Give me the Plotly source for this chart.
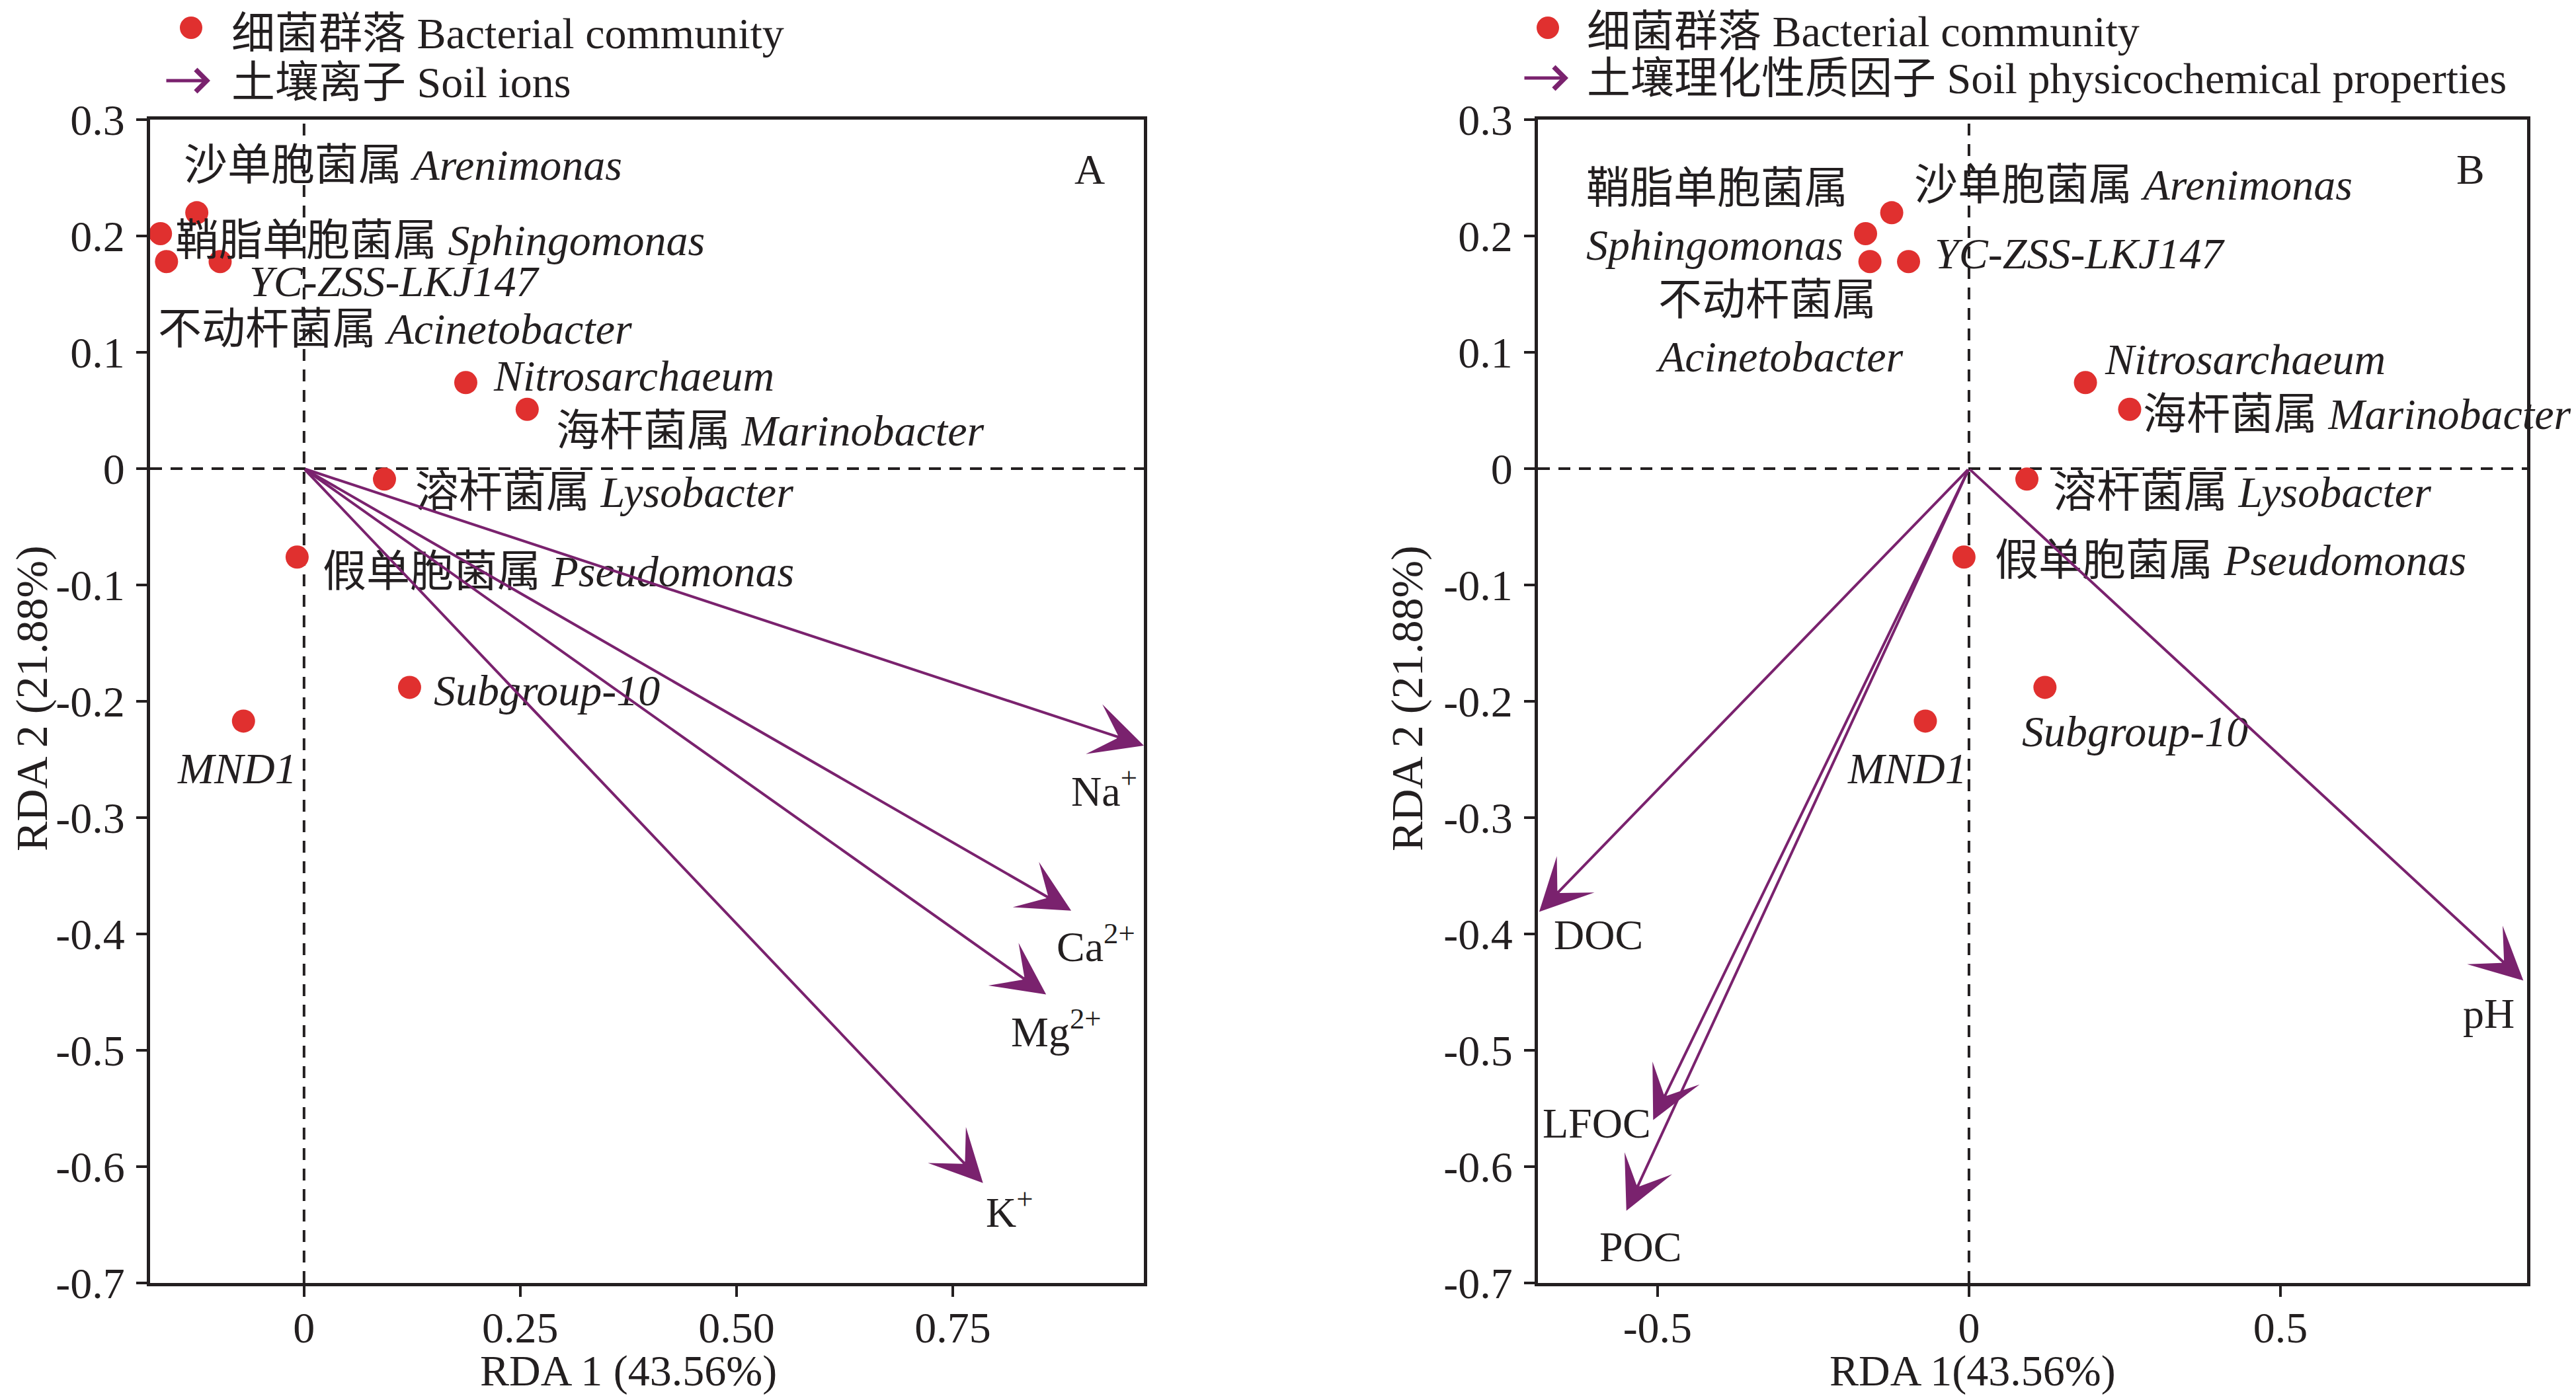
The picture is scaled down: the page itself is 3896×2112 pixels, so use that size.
import plotly.graph_objects as go

W, H = 3896, 2112

# ---------------- data ----------------
GENUS_CN = ["沙单胞菌属", "鞘脂单胞菌属", "不动杆菌属", "", "", "海杆菌属", "溶杆菌属", "假单胞菌属", "", ""]
GENUS_LAT = ["Arenimonas", "Sphingomonas", "Acinetobacter", "YC-ZSS-LKJ147", "Nitrosarchaeum",
             "Marinobacter", "Lysobacter", "Pseudomonas", "Subgroup-10", "MND1"]
GENUS_RDA1 = [-0.124, -0.166, -0.159, -0.097, 0.187, 0.258, 0.093, -0.008, 0.122, -0.070]
GENUS_RDA2 = [0.220, 0.202, 0.178, 0.178, 0.074, 0.051, -0.009, -0.076, -0.188, -0.217]

IONS = ["Na<sup>+</sup>", "Ca<sup>2+</sup>", "Mg<sup>2+</sup>", "K<sup>+</sup>"]
ION_RDA1 = [0.971, 0.887, 0.858, 0.785]
ION_RDA2 = [-0.238, -0.380, -0.452, -0.614]

PROPS = ["DOC", "LFOC", "POC", "pH"]
PROP_RDA1 = [-0.690, -0.507, -0.550, 0.890]
PROP_RDA2 = [-0.381, -0.560, -0.638, -0.440]

ORIGIN = [0.0, 0.0]

Y_TICKS = [0.3, 0.2, 0.1, 0.0, -0.1, -0.2, -0.3, -0.4, -0.5, -0.6, -0.7]
Y_TICKTEXT = ["0.3", "0.2", "0.1", "0", "-0.1", "-0.2", "-0.3", "-0.4", "-0.5", "-0.6", "-0.7"]
X1_TICKS = [0, 0.25, 0.5, 0.75]
X1_TICKTEXT = ["0", "0.25", "0.50", "0.75"]
X2_TICKS = [-0.5, 0, 0.5]
X2_TICKTEXT = ["-0.5", "0", "0.5"]

# ---------------- style / layout ----------------
RED = "#E0302F"
PURPLE = "#7A226E"
INK = "#231F20"
SERIF = "Liberation Serif, Times New Roman, Noto Sans CJK SC, serif"
LABEL_SIZE = 66

# label placement (anchor, dx px, dy px) per genus
LAB1 = [("left", -22, 72), ("left", 20, -10), ("left", -15, -102), ("left", 42, -30),
        ("left", 40, 10), ("left", 42, -32), ("left", 45, -20), ("left", 37, -22),
        ("left", 35, -5), ("center", -10, -72)]
LAB2 = [("left", 32, 42), ("right", -25, 26), ("left", -326, -101), ("left", 37, 12),
        ("left", 27, 35), ("left", 18, -7), ("left", 37, -20), ("left", 45, -5),
        ("left", -37, -67), ("center", -27, -72)]
TWO_LINE_RIGHT = {"Sphingomonas", "Acinetobacter"}
ION_OFF = [(-60, -65), (37, -50), (15, -52), (40, -40)]
PROP_OFF = [(90, -35), (-85, -5), (22, -55), (-52, -50)]


def px(x):
    return x / W


def py(y):
    return 1 - y / H


fig = go.Figure()

for xa, ya in (("x", "y"), ("x2", "y2")):
    fig.add_trace(go.Scatter(
        x=GENUS_RDA1, y=GENUS_RDA2, mode="markers", xaxis=xa, yaxis=ya,
        marker=dict(size=35, color=RED), showlegend=False, hoverinfo="skip"))

annotations = []

# genus labels
for panel, lab, xr, yr in ((1, LAB1, "x", "y"), (2, LAB2, "x2", "y2")):
    for cn, lat, gx, gy, (anc, dx, dy) in zip(GENUS_CN, GENUS_LAT, GENUS_RDA1, GENUS_RDA2, lab):
        if cn:
            sep = "<br>" if (panel == 2 and lat in TWO_LINE_RIGHT) else " "
            txt = f"{cn}{sep}<i>{lat}</i>"
        else:
            txt = f"<i>{lat}</i>"
        annotations.append(dict(
            x=gx, y=gy, xref=xr, yref=yr, text=txt, showarrow=False,
            xanchor=anc, yanchor="middle", align="left", xshift=dx, yshift=dy,
            font=dict(family=SERIF, size=LABEL_SIZE, color=INK)))

# vectors
for names, vx, vy, offs, xr, yr in ((IONS, ION_RDA1, ION_RDA2, ION_OFF, "x", "y"),
                                     (PROPS, PROP_RDA1, PROP_RDA2, PROP_OFF, "x2", "y2")):
    for nm, ex, ey, (dx, dy) in zip(names, vx, vy, offs):
        annotations.append(dict(
            x=ex, y=ey, ax=ORIGIN[0], ay=ORIGIN[1], xref=xr, yref=yr, axref=xr, ayref=yr,
            text="", showarrow=True, arrowhead=3, arrowsize=3.3, arrowwidth=4,
            arrowcolor=PURPLE, standoff=0, startstandoff=0))
        annotations.append(dict(
            x=ex, y=ey, xref=xr, yref=yr, text=nm, showarrow=False,
            xanchor="center", yanchor="middle", xshift=dx, yshift=dy,
            font=dict(family=SERIF, size=64, color=INK)))


def paper_text(x, y, text, size, xanchor="center", yanchor="middle", angle=0):
    return dict(x=px(x), y=py(y), xref="paper", yref="paper", text=text, showarrow=False,
                xanchor=xanchor, yanchor=yanchor, textangle=angle,
                font=dict(family=SERIF, size=size, color=INK))


# panel letters
annotations.append(paper_text(1640, 248, "A", 64))
annotations.append(paper_text(3728, 248, "B", 64))

# axis titles
annotations.append(paper_text(942, 2066, "RDA 1 (43.56%)", 66))
annotations.append(paper_text(2975, 2066, "RDA 1(43.56%)", 66))
for xt in (40, 2120):
    annotations.append(paper_text(xt, 1049, "RDA 2 (21.88%)", 68, angle=-90))

# legends
shapes = []
for dotx, doty, tx, ty1, arx, ary, ty2, txt2 in (
        (281, 34, 340, 42, 276, 114, 116, "土壤离子 Soil ions"),
        (2333, 34, 2390, 40, 2330, 110, 110, "土壤理化性质因子 Soil physicochemical properties")):
    shapes.append(dict(type="circle", xref="paper", yref="paper", xsizemode="pixel",
                       ysizemode="pixel", xanchor=px(dotx), yanchor=py(doty),
                       x0=-17, x1=17, y0=-17, y1=17, fillcolor=RED, line=dict(width=0)))
    annotations.append(paper_text(tx, ty1, "细菌群落 Bacterial community", 66, xanchor="left"))
    annotations.append(dict(x=px(arx + 34), y=py(ary), xref="paper", yref="paper",
                            ax=-68, ay=0, text="", showarrow=True, arrowhead=4,
                            arrowsize=1.3, arrowwidth=5, arrowcolor=PURPLE, standoff=0))
    annotations.append(paper_text(tx, ty2, txt2, 66, xanchor="left"))

axis_common = dict(showline=True, linewidth=5, linecolor=INK, mirror=True,
                   ticks="outside", ticklen=16, tickwidth=4, tickcolor=INK,
                   showgrid=False, zeroline=False, automargin=False,
                   tickfont=dict(family=SERIF, size=66, color=INK))

fig.update_layout(
    width=W, height=H, paper_bgcolor="white", plot_bgcolor="white",
    margin=dict(l=0, r=0, t=0, b=0), showlegend=False,
    xaxis=dict(domain=[px(219), px(1722)], range=[-0.178, 0.971], anchor="y",
               tickvals=X1_TICKS, ticktext=X1_TICKTEXT, ticklabelstandoff=-10, **axis_common),
    yaxis=dict(domain=[py(1933), py(173)], range=[-0.7, 0.3], anchor="x",
               tickvals=Y_TICKS, ticktext=Y_TICKTEXT, ticklabelstandoff=4, **axis_common),
    xaxis2=dict(domain=[px(2318), px(3814)], range=[-0.692, 0.896], anchor="y2",
                tickvals=X2_TICKS, ticktext=X2_TICKTEXT, ticklabelstandoff=-10, **axis_common),
    yaxis2=dict(domain=[py(1933), py(173)], range=[-0.7, 0.3], anchor="x2",
                tickvals=Y_TICKS, ticktext=Y_TICKTEXT, ticklabelstandoff=4, **axis_common),
    annotations=annotations, shapes=shapes,
)

# dashed zero reference lines
for xr, yr in (("x", "y"), ("x2", "y2")):
    fig.add_shape(type="line", xref=f"{xr} domain", yref=yr, x0=0, x1=1, y0=ORIGIN[1], y1=ORIGIN[1],
                  line=dict(color=INK, width=4, dash="18px,13px"), layer="below")
    fig.add_shape(type="line", xref=xr, yref=f"{yr} domain", x0=ORIGIN[0], x1=ORIGIN[0], y0=0, y1=1,
                  line=dict(color=INK, width=4, dash="18px,13px"), layer="below")

fig.write_html("out.html")
